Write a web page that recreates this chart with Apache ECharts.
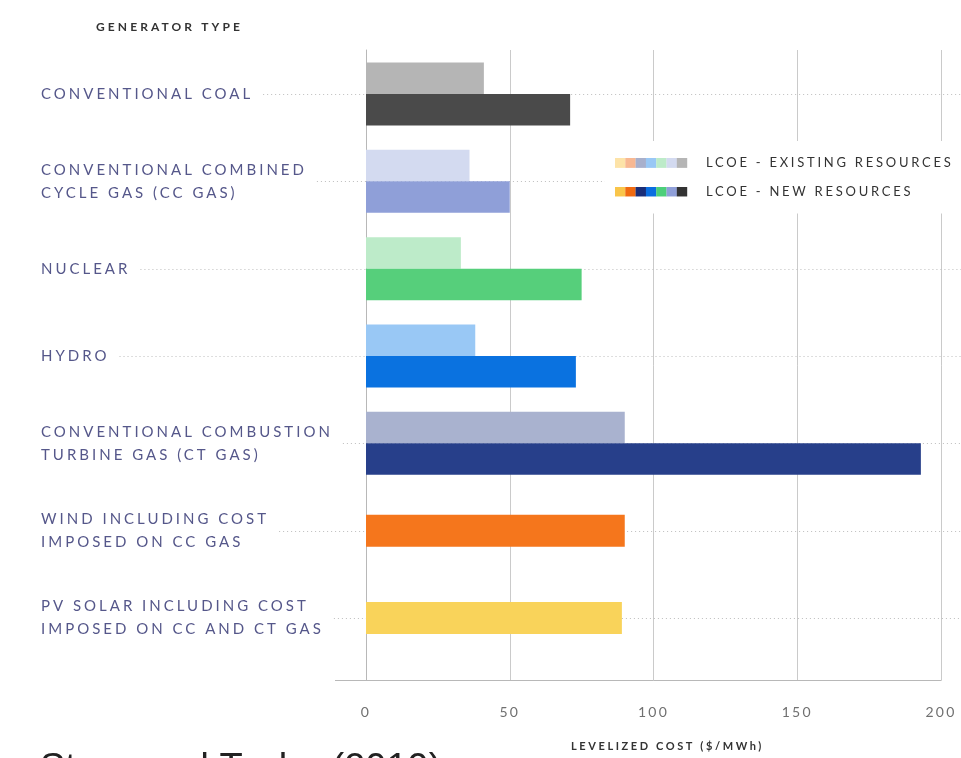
<!DOCTYPE html>
<html><head><meta charset="utf-8">
<script src="https://cdn.jsdelivr.net/npm/echarts@6/dist/echarts.min.js"></script>
<style>html,body{margin:0;padding:0;background:#fff;overflow:hidden}#c{width:961px;height:758px}</style>
</head><body><div id="c"></div>
<script>
// ---------- data ----------
const categories = [
  'CONVENTIONAL COAL',
  'CONVENTIONAL COMBINED\nCYCLE GAS (CC GAS)',
  'NUCLEAR',
  'HYDRO',
  'CONVENTIONAL COMBUSTION\nTURBINE GAS (CT GAS)',
  'WIND INCLUDING COST\nIMPOSED ON CC GAS',
  'PV SOLAR INCLUDING COST\nIMPOSED ON CC AND CT GAS'
];
const existingCost = [41, 36, 33, 38, 90, null, null];
const newCost = [71, 50, 75, 73, 193, 90, 89];
const existingColors = ['#b5b5b5', '#d3daf0', '#bdebc9', '#99c8f5', '#a9b2cf', null, null];
const newColors = ['#4a4a4a', '#8f9fd8', '#56cf7b', '#0a72e0', '#273f8a', '#f5761c', '#f9d35a'];
const xTicks = [0, 50, 100, 150, 200];
const legendNames = ['LCOE - EXISTING RESOURCES', 'LCOE - NEW RESOURCES'];
const legendExisting = ['#fde3a8', '#f8b892', '#a8b0cc', '#99c8f5', '#bdebc9', '#d3daf0', '#b5b5b5'];
const legendNew = ['#f9c54a', '#f06a10', '#1a2e78', '#0a6ee0', '#4ccf7a', '#8f9fd8', '#333333'];
const axisTitle = 'LEVELIZED COST ($/MWh)';
const yTitle = 'GENERATOR TYPE';
const citation = 'Stacy and Taylor (2019)';

// ---------- letter spacing (tracking) for the spaced caps typography ----------
(function () {
  const P = CanvasRenderingContext2D.prototype;
  if (!('letterSpacing' in P)) return;
  const table = { 11: 2.6, 12: 3.1, 13: 2.75, 14: 2.2, 15: 3.0 };
  function ls(font) {
    if (/Liberation/.test(font)) return '0px';
    const m = /(\d+(?:\.\d+)?)px/.exec(font);
    const s = m ? Math.round(parseFloat(m[1])) : 12;
    return (table[s] != null ? table[s] : s * 0.16) + 'px';
  }
  const f = P.fillText, me = P.measureText;
  P.fillText = function (t, x, y, w) { this.letterSpacing = ls(this.font); return w === undefined ? f.call(this, t, x, y) : f.call(this, t, x, y, w); };
  P.measureText = function (t) { this.letterSpacing = ls(this.font); return me.call(this, t); };
})();

const FONT = 'Lato';
const chart = echarts.init(document.getElementById('c'), null, { renderer: 'canvas' });

const paired = newCost.map((v, i) => existingCost[i] == null ? '-' : v);
const single = newCost.map((v, i) => existingCost[i] == null ? v : '-');

function svgIcon(cols) {
  const rects = cols.map((c, i) => `<rect x="${i * 10.3}" y="0" width="10.4" height="10" fill="${c}"/>`).join('');
  const svg = `<svg xmlns="http://www.w3.org/2000/svg" width="86" height="10" viewBox="0 0 86 10">${rects}</svg>`;
  return 'image://data:image/svg+xml;charset=utf-8,' + encodeURIComponent(svg);
}

const LABEL_MARGIN = 325;

const option = {
  animation: false,
  backgroundColor: '#fff',
  title: {
    text: yTitle, left: 96, top: 20, padding: 0,
    textStyle: { fontFamily: FONT, fontSize: 12, fontWeight: 'bold', color: '#333' }
  },
  legend: {
    data: [
      { name: legendNames[0], icon: svgIcon(legendExisting) },
      { name: legendNames[1], icon: svgIcon(legendNew) }
    ],
    orient: 'vertical', left: 605, top: 141,
    padding: [14, 10, 14, 10], itemGap: 13,
    itemWidth: 86, itemHeight: 10,
    backgroundColor: '#fff', selectedMode: false,
    textStyle: { fontFamily: FONT, fontSize: 13, color: '#333' }
  },
  grid: [
    { left: 366, right: 20, top: 50.3, height: 611.4 },
    { left: 366, right: 20, top: 50, bottom: 75 }
  ],
  xAxis: [
    { gridIndex: 0, type: 'value', min: 0, max: 200, show: false },
    {
      gridIndex: 1, type: 'value', min: xTicks[0], max: xTicks[xTicks.length - 1], interval: xTicks[1] - xTicks[0],
      axisLine: { show: true, lineStyle: { color: '#b8b8b8' } },
      axisTick: { show: false },
      splitLine: { show: true, lineStyle: { color: '#cacaca' } },
      axisLabel: { margin: 24, fontFamily: FONT, fontSize: 14, color: '#707070' },
      name: axisTitle, nameLocation: 'middle', nameGap: 59,
      nameTextStyle: { fontFamily: FONT, fontSize: 11, fontWeight: 'bold', color: '#333', padding: [0, 0, 0, 28] }
    }
  ],
  yAxis: [
    {
      gridIndex: 0, type: 'category', data: categories, inverse: true,
      axisLine: { show: false }, axisTick: { show: false }, splitLine: { show: false },
      axisLabel: { align: 'left', margin: LABEL_MARGIN, fontFamily: FONT, fontSize: 15, color: '#55578a', lineHeight: 23 }
    },
    { gridIndex: 0, type: 'category', data: categories, inverse: true, show: false },
    {
      gridIndex: 1, type: 'value', min: 0, max: 1,
      axisLine: { show: true, lineStyle: { color: '#b8b8b8' } },
      axisLabel: { show: false }, axisTick: { show: false }, splitLine: { show: false }
    }
  ],
  series: [
    {
      name: legendNames[0], type: 'bar', xAxisIndex: 0, yAxisIndex: 0,
      barWidth: 31.5, barGap: '0%', z: 3,
      data: existingCost.map((v, i) => ({ value: v == null ? '-' : v, itemStyle: { color: existingColors[i] || '#ccc' } }))
    },
    {
      name: legendNames[1], type: 'bar', xAxisIndex: 0, yAxisIndex: 0,
      barWidth: 31.5, barGap: '0%', z: 3,
      data: paired.map((v, i) => ({ value: v, itemStyle: { color: newColors[i] } }))
    },
    {
      name: legendNames[1], type: 'bar', xAxisIndex: 0, yAxisIndex: 1,
      barWidth: 32, z: 3,
      data: single.map((v, i) => ({ value: v, itemStyle: { color: newColors[i] } }))
    }
  ]
};
chart.setOption(option);

// dotted leader / guide lines at each category centre, positioned through the axes
const mctx = document.createElement('canvas').getContext('2d');
function textW(s, font) { mctx.font = font; return mctx.measureText(s).width; }
const gridLeftPx = chart.convertToPixel({ xAxisIndex: 0 }, 0);
const labelLeft = gridLeftPx - LABEL_MARGIN;
const W = chart.getWidth();
const els = categories.map((c, i) => {
  const y = Math.round(chart.convertToPixel({ yAxisIndex: 0 }, i)) + 0.5;
  const w = Math.max(...c.split('\n').map(s => textW(s, '15px ' + FONT)));
  const x0 = labelLeft + w + 10;
  return {
    type: 'line', z: 1, silent: true,
    shape: { x1: x0, y1: y, x2: W, y2: y },
    style: { stroke: '#bdbdbd', lineWidth: 1, lineDash: [1, 3] }
  };
});
const axisY = Math.round(chart.convertToPixel({ yAxisIndex: 2 }, 0)) + 0.5;
els.push({
  type: 'line', z: 1, silent: true,
  shape: { x1: gridLeftPx - 31, y1: axisY, x2: gridLeftPx, y2: axisY },
  style: { stroke: '#b8b8b8', lineWidth: 1 }
});
els.push({
  type: 'text', left: 40, top: 751, z: 5, silent: true,
  style: { text: citation, font: '38px "Liberation Sans"', fill: '#222' }
});
chart.setOption({ graphic: { elements: els } });
</script>
</body></html>
